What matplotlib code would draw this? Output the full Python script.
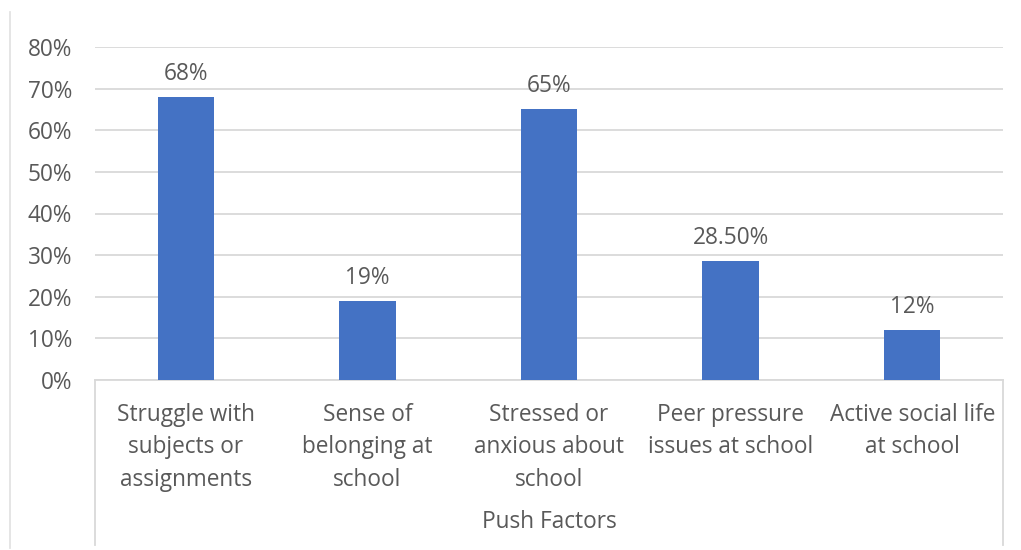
import matplotlib
matplotlib.use("Agg")
import matplotlib.pyplot as plt
from matplotlib.lines import Line2D
from matplotlib.ticker import PercentFormatter

categories = [
    "Struggle with\nsubjects or\nassignments",
    "Sense of\nbelonging at\nschool",
    "Stressed or\nanxious about\nschool",
    "Peer pressure\nissues at school",
    "Active social life\nat school",
]
values = [0.68, 0.19, 0.65, 0.285, 0.12]
value_labels = ["68%", "19%", "65%", "28.50%", "12%"]
group_label = "Push Factors"
yticks = [0.0, 0.1, 0.2, 0.3, 0.4, 0.5, 0.6, 0.7, 0.8]

BAR = "#4472C4"
TEXT = "#595959"
GRID = "#D9D9D9"
FONT = "Open Sans"
FS = 16.3

W, H = 1021, 550
fig = plt.figure(figsize=(W / 100, H / 100), dpi=100)
fig.patch.set_facecolor("white")

x0, x1 = 95, 1003
y_top, y_base = 47, 380
ax = fig.add_axes([x0 / W, 1 - y_base / H, (x1 - x0) / W, (y_base - y_top) / H])

xs = list(range(len(categories)))
ax.bar(xs, values, width=0.31, color=BAR, zorder=3)
ax.set_xlim(-0.5, len(categories) - 0.5)
ax.set_ylim(0, 0.8)

ax.set_yticks(yticks)
ax.yaxis.set_major_formatter(PercentFormatter(1.0, decimals=0))
ax.tick_params(axis="y", length=0, pad=16.5, labelsize=FS, labelcolor=TEXT)
for lbl in ax.get_yticklabels():
    lbl.set_fontfamily(FONT)

ax.set_xticks(xs)
ax.set_xticklabels(categories, fontfamily=FONT, fontsize=FS, color=TEXT,
                   linespacing=1.47, va="top")
ax.tick_params(axis="x", length=0, pad=16.5)

ax.grid(axis="y", color=GRID, linewidth=1.3, zorder=0)
for side in ("top", "right", "left"):
    ax.spines[side].set_visible(False)
ax.spines["bottom"].set_color(GRID)
ax.spines["bottom"].set_linewidth(1.3)

for x, v, t in zip(xs, values, value_labels):
    ax.annotate(t, (x, v), xytext=(0, 8), textcoords="offset points",
                ha="center", va="bottom", fontfamily=FONT, fontsize=FS,
                color=TEXT)

# Outer frame lines of the category axis
def fig_line(xa, ya, xb, yb, color=GRID, lw=1.3):
    fig.add_artist(Line2D([xa / W, xb / W], [1 - ya / H, 1 - yb / H],
                          color=color, linewidth=lw))

fig_line(x0, y_base, x0, 545)
fig_line(x1, y_base, x1, 545)
fig_line(10, 12, 10, 548, color="#E3E3E3", lw=1.3)

fig.text((x0 + x1) / 2 / W, 1 - 522 / H, group_label, ha="center", va="center",
         fontfamily=FONT, fontsize=FS, color=TEXT)

fig.savefig("out.png", dpi=100)
